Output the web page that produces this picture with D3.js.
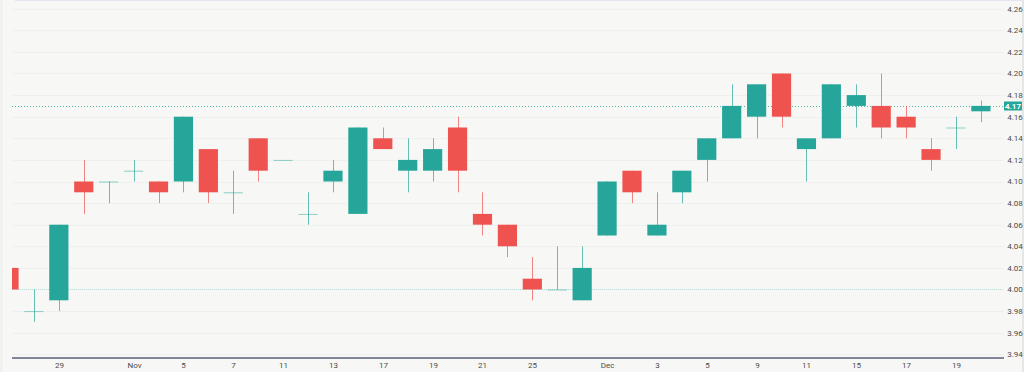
<!DOCTYPE html>
<html>
<head>
<meta charset="utf-8">
<script src="https://cdn.jsdelivr.net/npm/d3@7"></script>
<style>
    html, body { margin: 0; padding: 0; background: #f7f8f6; }
    #chart { width: 1024px; height: 372px; }
    .tick-label { font-family: Roboto, "Liberation Sans", sans-serif; font-size: 8px; fill: #4a4a4a; }
</style>
</head>
<body>
<div id="chart"></div>
<script>
// ----------data------------------------------
var dates = ["2024-10-25", "2024-10-28", "2024-10-29", "2024-10-30", "2024-10-31", "2024-11-01", "2024-11-04", "2024-11-05",
    "2024-11-06", "2024-11-07", "2024-11-08", "2024-11-11", "2024-11-12", "2024-11-13", "2024-11-14", "2024-11-17",
    "2024-11-18", "2024-11-19", "2024-11-20", "2024-11-21", "2024-11-22", "2024-11-25", "2024-11-26", "2024-11-27",
    "2024-12-01", "2024-12-02", "2024-12-03", "2024-12-04", "2024-12-05", "2024-12-06", "2024-12-09", "2024-12-10",
    "2024-12-11", "2024-12-12", "2024-12-15", "2024-12-16", "2024-12-17", "2024-12-18", "2024-12-19", "2024-12-20"];
var open = [4.02, 3.98, 3.99, 4.10, 4.10, 4.11, 4.10, 4.10, 4.13, 4.09, 4.14, 4.12, 4.07, 4.10, 4.07, 4.14, 4.11, 4.11, 4.15, 4.07,
    4.06, 4.01, 4.00, 3.99, 4.05, 4.11, 4.05, 4.09, 4.12, 4.14, 4.16, 4.20, 4.13, 4.14, 4.17, 4.17, 4.16, 4.13, 4.15, 4.165];
var high = [4.02, 4.00, 4.06, 4.12, 4.10, 4.12, 4.10, 4.16, 4.13, 4.11, 4.14, 4.12, 4.09, 4.12, 4.15, 4.15, 4.14, 4.14, 4.16, 4.09,
    4.06, 4.03, 4.04, 4.04, 4.10, 4.11, 4.09, 4.11, 4.14, 4.19, 4.19, 4.20, 4.14, 4.19, 4.19, 4.20, 4.17, 4.14, 4.16, 4.175];
var low = [4.00, 3.97, 3.98, 4.07, 4.08, 4.10, 4.08, 4.09, 4.08, 4.07, 4.10, 4.12, 4.06, 4.09, 4.07, 4.13, 4.09, 4.10, 4.09, 4.05,
    4.03, 3.99, 4.00, 3.99, 4.05, 4.08, 4.05, 4.08, 4.10, 4.14, 4.14, 4.15, 4.10, 4.14, 4.15, 4.14, 4.14, 4.11, 4.13, 4.155];
var close = [4.00, 3.98, 4.06, 4.09, 4.10, 4.11, 4.09, 4.16, 4.09, 4.09, 4.11, 4.12, 4.07, 4.11, 4.15, 4.13, 4.12, 4.13, 4.11, 4.06,
    4.04, 4.00, 4.00, 4.02, 4.10, 4.09, 4.06, 4.11, 4.14, 4.17, 4.19, 4.16, 4.14, 4.19, 4.18, 4.15, 4.15, 4.12, 4.15, 4.17];
var tickDates = ["2024-10-29", "2024-11-01", "2024-11-05", "2024-11-07", "2024-11-11", "2024-11-13", "2024-11-17", "2024-11-19",
    "2024-11-21", "2024-11-25", "2024-12-01", "2024-12-03", "2024-12-05", "2024-12-09", "2024-12-11", "2024-12-15",
    "2024-12-17", "2024-12-19"];
var yDomain = [3.94, 4.26];
var lastPrice = 4.17;
var baseLine = 4.00;

var up = "#26a69a", down = "#ef5350";

// ----------layout-----------
var width = 1024, height = 372;
var plot = { left: 12, right: 1004, top: 0, bottom: 358 };

var svg = d3.select("#chart").append("svg")
    .attr("width", width)
    .attr("height", height);

svg.append("rect")
    .attr("width", width).attr("height", height)
    .attr("fill", "#f7f8f6");

// thin frame bits
svg.append("rect").attr("x", 0).attr("y", 0).attr("width", 3).attr("height", height).attr("fill", "#f0f2f0");
svg.append("rect").attr("x", 15).attr("y", 0).attr("width", 1007).attr("height", 1).attr("fill", "#e3e6ec");
svg.append("rect").attr("x", 1022).attr("y", 0).attr("width", 2).attr("height", height).attr("fill", "#e4e6e8");

// ----------scales-----------
var step = 24.92;
var x = d3.scaleBand()
    .domain(dates)
    .range([9 - step / 2, 9 - step / 2 + step * dates.length])
    .paddingInner(0.23)
    .paddingOuter(0.115);

var y = d3.scaleLinear()
    .domain(yDomain)
    .range([354.3, 8.7]);

var cx = function (d) { return Math.round(x(d) + x.bandwidth() / 2); };

svg.append("clipPath").attr("id", "plot-clip")
    .append("rect")
    .attr("x", plot.left).attr("y", plot.top)
    .attr("width", plot.right - plot.left).attr("height", plot.bottom - plot.top);

// ----------grid-----------
var yTicks = y.ticks(16);
svg.append("g")
    .selectAll("line")
    .data(yTicks)
    .enter().append("line")
    .attr("x1", plot.left).attr("x2", plot.right)
    .attr("y1", function (d) { return Math.round(y(d)) + 0.5; })
    .attr("y2", function (d) { return Math.round(y(d)) + 0.5; })
    .attr("stroke", "#eef0ee")
    .attr("stroke-width", 1);

var g = svg.append("g").attr("clip-path", "url(#plot-clip)");

// base line and last price line, dotted
g.append("line")
    .attr("x1", plot.left).attr("x2", plot.right)
    .attr("y1", Math.round(y(baseLine)) + 0.5).attr("y2", Math.round(y(baseLine)) + 0.5)
    .attr("stroke", up).attr("stroke-opacity", 0.25)
    .attr("stroke-dasharray", "1,1");

g.append("line")
    .attr("x1", plot.left).attr("x2", plot.right)
    .attr("y1", Math.round(y(lastPrice)) + 0.5).attr("y2", Math.round(y(lastPrice)) + 0.5)
    .attr("stroke", up).attr("stroke-opacity", 0.8)
    .attr("stroke-dasharray", "1,2");

// ----------candles-----------
var candles = dates.map(function (d, i) {
    return { date: d, open: open[i], high: high[i], low: low[i], close: close[i] };
});
var color = function (d) { return d.close >= d.open ? up : down; };

g.selectAll(".wick")
    .data(candles)
    .enter().append("line")
    .attr("class", "wick")
    .attr("x1", function (d) { return cx(d.date) + 0.5; })
    .attr("x2", function (d) { return cx(d.date) + 0.5; })
    .attr("y1", function (d) { return y(d.high); })
    .attr("y2", function (d) { return y(d.low); })
    .attr("stroke", color)
    .attr("stroke-opacity", 0.7)
    .attr("stroke-width", 1);

g.selectAll(".body")
    .data(candles)
    .enter().append("rect")
    .attr("class", "body")
    .attr("x", function (d) { return x(d.date); })
    .attr("width", x.bandwidth())
    .attr("y", function (d) { return y(Math.max(d.open, d.close)); })
    .attr("height", function (d) { return Math.max(1, y(Math.min(d.open, d.close)) - y(Math.max(d.open, d.close))); })
    .attr("fill", color)
    .attr("fill-opacity", function (d) { return d.open === d.close ? 0.5 : 1; });

// ----------axes-----------
svg.append("line")
    .attr("x1", plot.left).attr("x2", plot.right)
    .attr("y1", plot.bottom).attr("y2", plot.bottom)
    .attr("stroke", "#5d5f78")
    .attr("stroke-width", 1.5);

var fmtDay = d3.timeFormat("%-d"), fmtMonth = d3.timeFormat("%b");
var parse = d3.timeParse("%Y-%m-%d");
svg.append("g")
    .selectAll("text")
    .data(tickDates)
    .enter().append("text")
    .attr("class", "tick-label")
    .attr("x", function (d) { return cx(d) + 0.5; })
    .attr("y", 368)
    .attr("text-anchor", "middle")
    .text(function (d) { var t = parse(d); return t.getDate() === 1 ? fmtMonth(t) : fmtDay(t); });

var fmtY = d3.format(".2f");
svg.append("g")
    .selectAll("text")
    .data(yTicks)
    .enter().append("text")
    .attr("class", "tick-label")
    .attr("x", 1015)
    .attr("y", function (d) { return y(d); })
    .attr("dy", "0.35em")
    .attr("text-anchor", "middle")
    .text(fmtY);

// last price tag
svg.append("rect")
    .attr("x", 1004).attr("y", Math.round(y(lastPrice)) - 4.5)
    .attr("width", 18).attr("height", 9)
    .attr("fill", up);
svg.append("text")
    .attr("class", "tick-label")
    .attr("x", 1013).attr("y", y(lastPrice))
    .attr("dy", "0.35em")
    .attr("text-anchor", "middle")
    .style("fill", "#ffffff")
    .style("font-weight", "bold")
    .text(fmtY(lastPrice));
</script>
</body>
</html>
